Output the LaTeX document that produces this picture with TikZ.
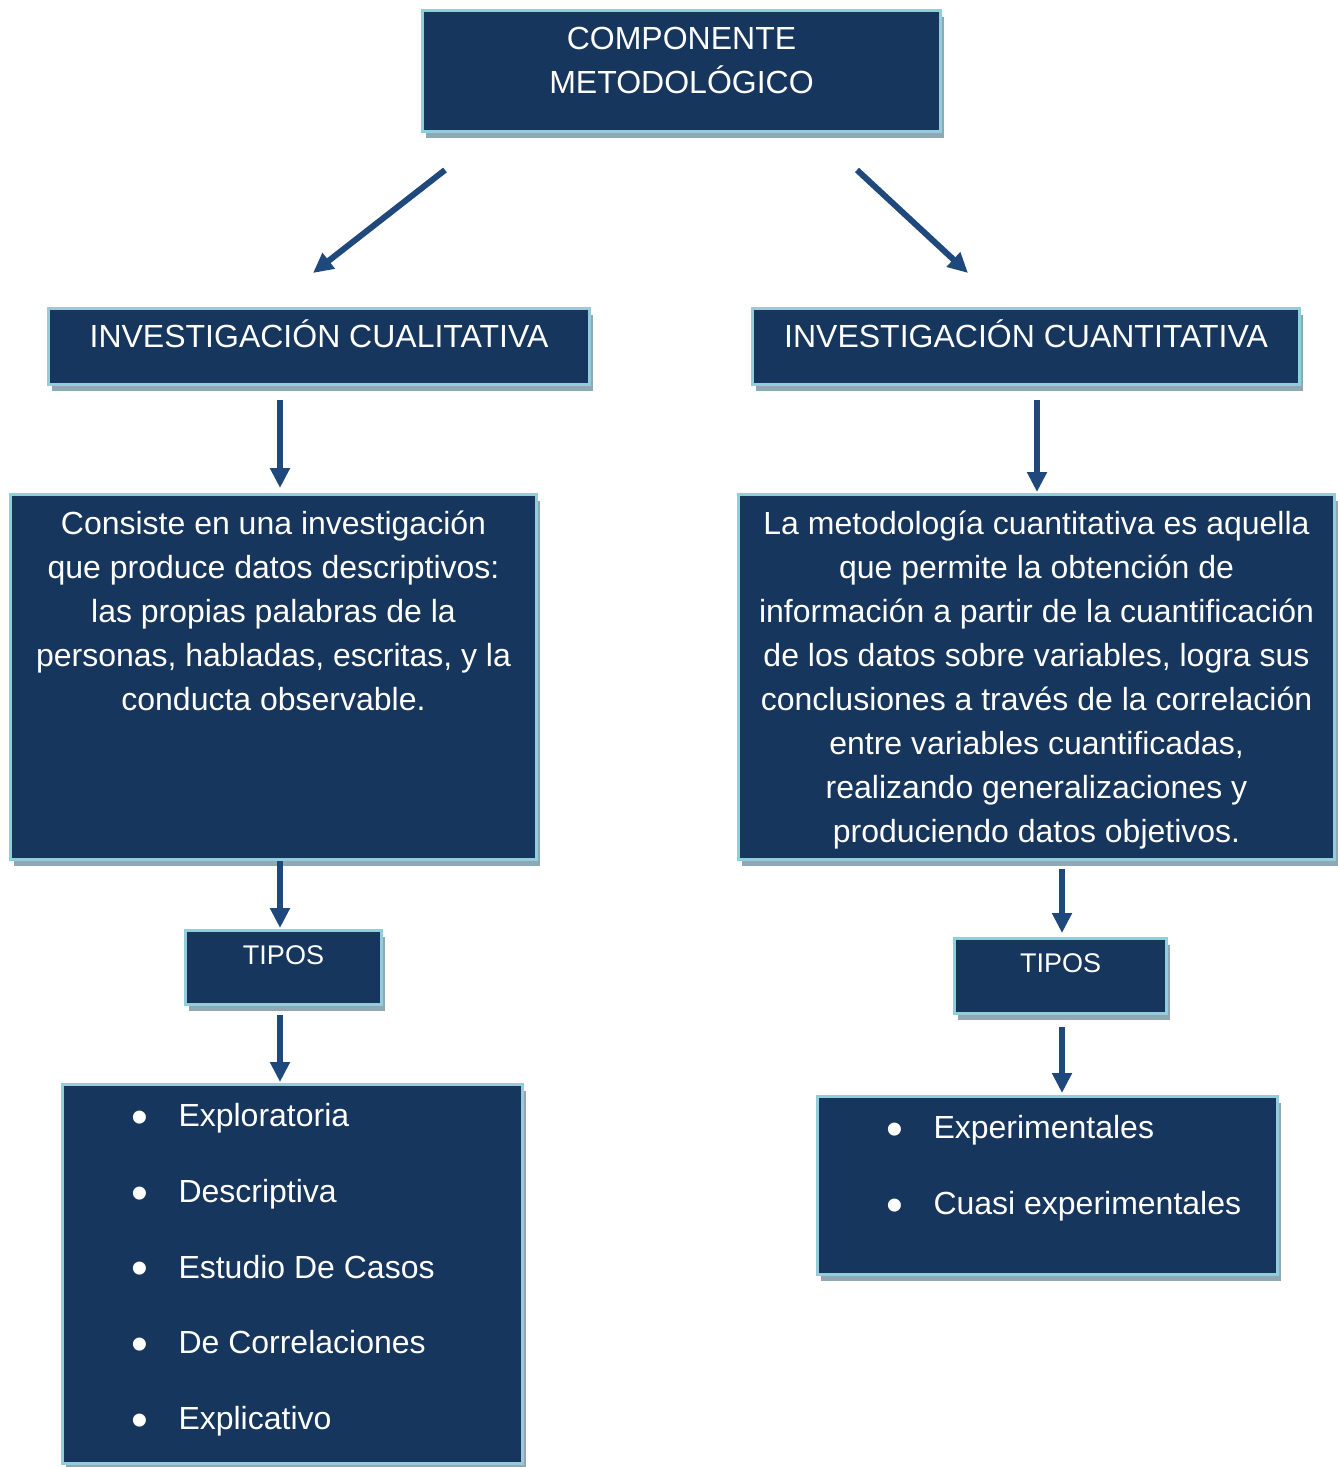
\documentclass[tikz,border=0pt]{standalone}
\usepackage{fontspec}
\setmainfont{Liberation Sans}
\usetikzlibrary{arrows.meta,shadows,calc}

\definecolor{azul}{RGB}{23,54,93}
\definecolor{celeste}{RGB}{146,205,220}
\definecolor{sombra}{RGB}{143,168,180}
\definecolor{azulf}{RGB}{31,73,125}

% box content: width, height, top gap, text
\newcommand{\caja}[4]{\parbox[c][#2][t]{#1}{\centering\vspace*{#3}\strut#4}}
\newcommand{\lista}[4]{\parbox[c][#2][t]{#1}{\raggedright\vspace*{#3}\strut#4}}
\newcommand{\punto}[1]{\hspace*{34.5pt}\makebox[23.5pt][l]{\raisebox{-3.4pt}{\scalebox{1.5}{\textbullet}}}#1}

\begin{document}
\begin{tikzpicture}[x=0.5pt,y=-0.5pt,
  bloque/.style={fill=azul, draw=celeste, line width=1.5pt, inner sep=0pt, text=white,
    drop shadow={shadow xshift=1.75pt, shadow yshift=-3pt, fill=sombra, opacity=1},
    font=\fontsize{16pt}{22pt}\selectfont},
  tipo/.style={bloque, font=\fontsize{13.5pt}{16pt}\selectfont},
  flecha/.style={draw=azulf, line width=3pt, -{Triangle[length=10pt,width=9.5pt]}, fill=azulf}]
\useasboundingbox (0,0) rectangle (1338,1467);

\node[bloque] (comp) at (681.5,71) {\caja{259pt}{60.5pt}{4.1pt}{COMPONENTE\\ METODOLÓGICO}};

\node[bloque] (cual) at (319,346.5) {\caja{270.5pt}{38pt}{4.1pt}{INVESTIGACIÓN CUALITATIVA}};
\node[bloque] (cuan) at (1026,346.5) {\caja{273.5pt}{38pt}{4.1pt}{INVESTIGACIÓN CUANTITATIVA}};

\node[bloque] (dcual) at (273.5,677) {\caja{263pt}{182.5pt}{4.35pt}{Consiste en una investigación\\
  que produce datos descriptivos:\\ las propias palabras de la\\
  personas, habladas, escritas, y la\\ conducta observable.}};
\node[bloque] (dcuan) at (1036.5,677) {\caja{298pt}{182.5pt}{4.35pt}{La metodología cuantitativa es aquella\\
  que permite la obtención de\\ información a partir de la cuantificación\\
  de los datos sobre variables, logra sus\\ conclusiones a través de la correlación\\
  entre variables cuantificadas,\\ realizando generalizaciones y\\ produciendo datos objetivos.}};

\node[tipo] (tcual) at (283.5,967.5) {\caja{98pt}{37pt}{6pt}{TIPOS}};
\node[tipo] (tcuan) at (1060.5,976) {\caja{106pt}{37.5pt}{6pt}{TIPOS}};

\node[bloque] (lcual) at (292.5,1274) {\lista{230pt}{189.5pt}{5.6pt}{\punto{Exploratoria}\\[15.9pt]
  \punto{Descriptiva}\\[15.9pt] \punto{Estudio De Casos}\\[15.9pt]
  \punto{De Correlaciones}\\[15.9pt] \punto{Explicativo}}};
\node[bloque] (lcuan) at (1047.5,1185.5) {\lista{230pt}{89pt}{5.6pt}{\punto{Experimentales}\\[16pt]
  \punto{Cuasi experimentales}}};

% connectors
\draw[flecha] ($(comp.south)+(-236.5,37)$) -- ($(cual.north)+(-6,-34)$);
\draw[flecha] ($(comp.south)+(175.5,37)$) -- ($(cuan.north)+(-58,-34)$);
\draw[flecha] ($(cual.south)+(-39,14)$) -- ($(dcual.north)+(6.5,-5)$);
\draw[flecha] ($(cuan.south)+(11,14)$) -- ($(dcuan.north)+(0.5,-1)$);
\draw[flecha] ($(dcual.south)+(6.5,0)$) -- ($(tcual.north)+(-3.5,-1)$);
\draw[flecha] ($(dcuan.south)+(25.5,8)$) -- ($(tcuan.north)+(1.5,-4)$);
\draw[flecha] ($(tcual.south)+(-3.5,9)$) -- ($(lcual.north)+(-12.5,-1)$);
\draw[flecha] ($(tcuan.south)+(1.5,12)$) -- ($(lcuan.north)+(14.5,-2)$);
\end{tikzpicture}
\end{document}
